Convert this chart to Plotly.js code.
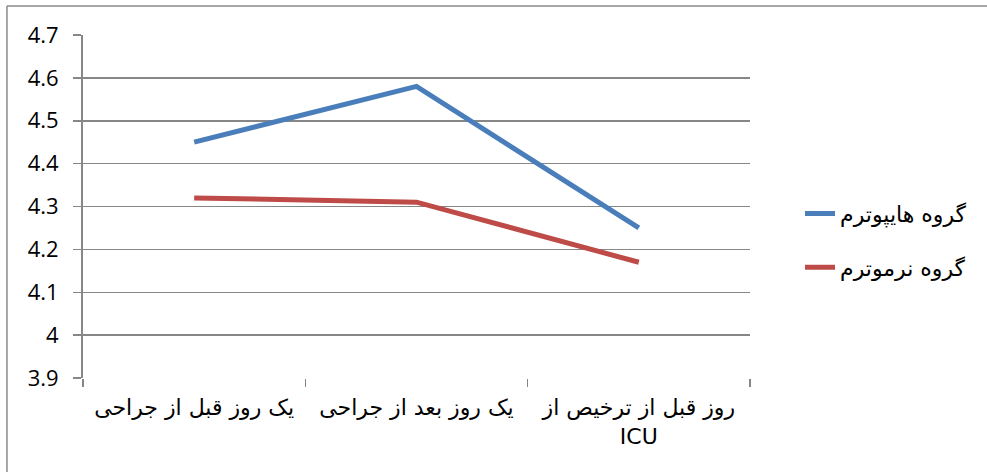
<!DOCTYPE html>
<html>
<head>
<meta charset="utf-8">
<script src="https://cdn.plot.ly/plotly-3.0.1.min.js"></script>
<style>html,body{margin:0;padding:0;background:#fff;}#chart{width:987px;height:472px;}</style>
</head>
<body>
<div id="chart"></div>
<script>
const categories = ["یک روز قبل از جراحی", "یک روز بعد از جراحی", "روز قبل از ترخیص از<br>ICU"];
const seriesNames = ["گروه هایپوترم", "گروه نرموترم"];
const hypothermValues = [4.45, 4.58, 4.25];
const normothermValues = [4.32, 4.31, 4.17];
const yTickValues = [3.9, 4, 4.1, 4.2, 4.3, 4.4, 4.5, 4.6, 4.7];
const yTickLabels = ["3.9", "4", "4.1", "4.2", "4.3", "4.4", "4.5", "4.6", "4.7"];

const traces = [
  {x: categories, y: hypothermValues, name: seriesNames[0], type: "scatter", mode: "lines",
   line: {color: "#4a7ebb", width: 5}, legendgroup: "a"},
  {x: categories, y: normothermValues, name: seriesNames[1], type: "scatter", mode: "lines",
   line: {color: "#be4b48", width: 5}, legendgroup: "b"}
];

const gridColor = "#878787";
const layout = {
  width: 987, height: 472,
  margin: {l: 83, r: 237, t: 35, b: 94},
  paper_bgcolor: "#ffffff", plot_bgcolor: "#ffffff",
  font: {family: "Liberation Sans, DejaVu Sans, sans-serif", color: "#000"},
  showlegend: true,
  legend: {x: 1.075, xanchor: "left", y: 0.4, yanchor: "middle", traceorder: "grouped",
           tracegroupgap: 22, font: {size: 22, family: "DejaVu Sans, sans-serif"}, bgcolor: "rgba(0,0,0,0)"},
  xaxis: {type: "category", range: [-0.5, 2.5], showgrid: false, showline: false, zeroline: false,
          ticks: "outside", tickson: "boundaries", ticklen: 8, tickwidth: 1.5, tickcolor: gridColor,
          tickfont: {size: 22, family: "DejaVu Sans, sans-serif"}, ticklabelstandoff: 14, fixedrange: true},
  yaxis: {range: [3.9, 4.7], tickvals: yTickValues, ticktext: yTickLabels, showgrid: true,
          gridcolor: gridColor, gridwidth: 1.5, showline: true, linecolor: gridColor, linewidth: 2,
          zeroline: false, ticks: "outside", ticklen: 8, tickwidth: 1.5, tickcolor: gridColor,
          tickfont: {size: 22, family: "Open Sans, sans-serif"}, ticklabelstandoff: 10, fixedrange: true},
  shapes: [
    {type: "line", xref: "paper", yref: "paper", x0: -0.114, x1: 1.4, y0: 1.0845, y1: 1.0845,
     line: {color: "#8a8a8a", width: 1.5}},
    {type: "line", xref: "paper", yref: "paper", x0: -0.114, x1: -0.114, y0: 1.0845, y1: -0.4,
     line: {color: "#8a8a8a", width: 1.5}}
  ]
};

Plotly.newPlot("chart", traces, layout, {displayModeBar: false, staticPlot: true});
</script>
</body>
</html>
